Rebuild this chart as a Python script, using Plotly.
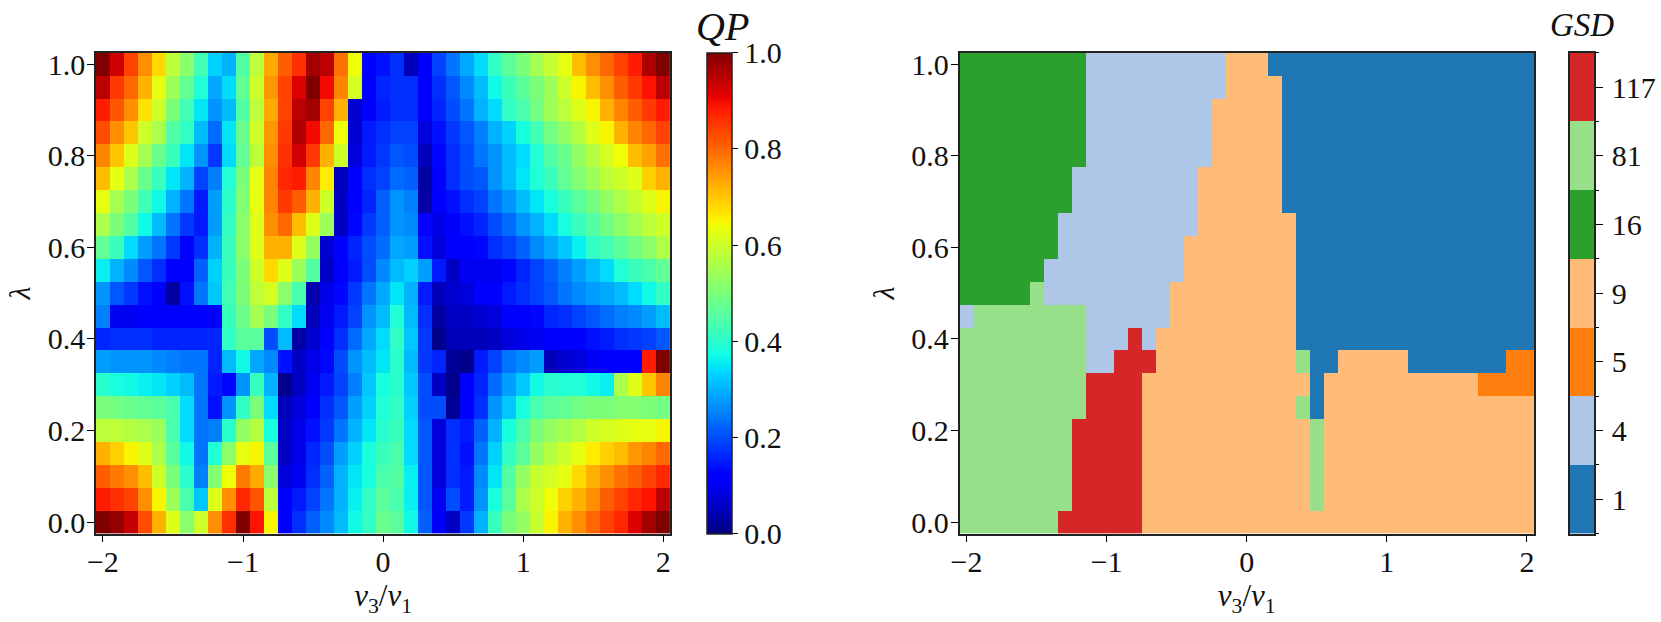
import plotly.graph_objects as go

WIDTH, HEIGHT = 1661, 622
FONT = "Liberation Serif"

v_ratio = [round(-2 + 0.1 * i, 1) for i in range(41)]
lam = [round(1 - 0.05 * i, 2) for i in range(21)]  # top row first

# QP, rows from lambda=1.0 down to 0.0
qp_rows = [
    [1.0, .93, .84, .76, .68, .58, .52, .43, .33, .30, .45, .58, .73, .81, .86, .97, .95, .79, .64, .12, .14, .17, .05, .12, .19, .24, .29, .34, .41, .46, .50, .55, .59, .63, .71, .76, .80, .84, .88, .96, 1.0],
    [.95, .85, .80, .72, .63, .54, .47, .39, .29, .34, .47, .60, .75, .84, .92, 1.0, .90, .77, .61, .12, .16, .17, .17, .12, .17, .21, .26, .31, .37, .42, .46, .50, .54, .60, .65, .71, .76, .81, .85, .89, .95],
    [.88, .82, .76, .67, .60, .50, .43, .35, .27, .31, .45, .58, .73, .84, .95, .97, .84, .72, .07, .12, .15, .17, .17, .12, .16, .20, .24, .30, .34, .41, .44, .49, .54, .58, .62, .65, .72, .77, .81, .85, .88],
    [.83, .76, .70, .60, .56, .45, .41, .31, .23, .35, .48, .60, .75, .85, .96, .90, .80, .64, .07, .15, .17, .19, .19, .08, .14, .18, .21, .25, .30, .33, .38, .43, .49, .53, .57, .62, .65, .72, .77, .80, .84],
    [.77, .70, .62, .55, .48, .42, .35, .27, .18, .34, .47, .58, .76, .86, .93, .85, .72, .60, .08, .15, .18, .21, .20, .05, .13, .17, .20, .24, .27, .31, .34, .39, .45, .48, .53, .57, .61, .64, .71, .74, .79],
    [.71, .63, .56, .48, .42, .35, .30, .19, .25, .39, .50, .63, .77, .87, .88, .77, .66, .05, .11, .17, .19, .23, .22, .03, .12, .17, .20, .21, .27, .31, .35, .39, .42, .47, .51, .54, .58, .60, .62, .69, .72],
    [.63, .55, .50, .43, .37, .30, .24, .15, .28, .40, .51, .63, .77, .85, .81, .72, .60, .06, .11, .16, .22, .27, .25, .03, .12, .14, .17, .19, .24, .27, .31, .35, .38, .42, .46, .49, .53, .56, .59, .62, .65],
    [.56, .50, .45, .37, .31, .24, .18, .15, .28, .41, .52, .62, .76, .80, .71, .62, .54, .06, .13, .18, .22, .27, .26, .12, .09, .11, .14, .16, .20, .23, .27, .30, .34, .38, .42, .45, .49, .52, .55, .58, .60],
    [.47, .42, .34, .28, .24, .18, .12, .17, .30, .42, .52, .62, .72, .72, .62, .53, .07, .11, .16, .20, .23, .29, .28, .14, .08, .11, .12, .13, .17, .19, .22, .26, .29, .32, .36, .41, .43, .46, .49, .52, .56],
    [.36, .30, .26, .21, .17, .12, .11, .22, .33, .42, .50, .60, .68, .62, .54, .45, .06, .11, .15, .20, .26, .31, .33, .28, .15, .06, .10, .10, .10, .13, .16, .19, .22, .25, .28, .31, .34, .39, .42, .44, .47],
    [.27, .21, .18, .14, .11, .03, .14, .24, .32, .43, .50, .58, .61, .52, .44, .04, .09, .13, .18, .24, .29, .35, .30, .15, .05, .07, .08, .11, .12, .15, .17, .19, .21, .24, .26, .28, .29, .31, .34, .37, .41],
    [.25, .10, .10, .11, .12, .12, .12, .12, .12, .42, .48, .55, .50, .41, .34, .05, .10, .15, .19, .27, .31, .39, .31, .17, .03, .06, .06, .07, .08, .11, .12, .13, .16, .17, .19, .21, .23, .25, .26, .28, .31],
    [.16, .17, .17, .17, .16, .16, .16, .16, .16, .41, .46, .46, .20, .31, .03, .07, .12, .17, .23, .29, .34, .41, .32, .18, .01, .05, .05, .05, .06, .08, .09, .10, .12, .12, .12, .14, .15, .17, .18, .19, .21],
    [.28, .27, .27, .27, .26, .25, .24, .24, .16, .31, .37, .29, .26, .14, .06, .09, .13, .20, .27, .31, .35, .40, .31, .18, .16, .02, .01, .15, .19, .24, .26, .28, .05, .07, .08, .10, .11, .12, .12, .88, 1.0],
    [.40, .38, .37, .36, .35, .33, .31, .24, .15, .13, .27, .42, .30, .01, .06, .10, .15, .19, .25, .32, .38, .40, .32, .20, .06, .01, .12, .16, .23, .28, .32, .37, .40, .39, .39, .37, .36, .56, .62, .70, .77],
    [.50, .49, .48, .47, .46, .44, .34, .24, .14, .27, .41, .50, .34, .05, .08, .12, .17, .21, .28, .33, .39, .41, .33, .20, .20, .02, .12, .17, .27, .32, .38, .44, .46, .47, .49, .50, .50, .51, .51, .50, .49],
    [.58, .58, .57, .56, .54, .44, .34, .24, .25, .40, .53, .57, .38, .06, .09, .14, .18, .24, .30, .35, .40, .42, .34, .21, .08, .17, .15, .22, .30, .38, .44, .50, .53, .55, .57, .60, .61, .62, .63, .63, .65],
    [.72, .69, .65, .62, .56, .46, .37, .24, .39, .52, .63, .65, .46, .06, .09, .16, .20, .28, .33, .38, .42, .44, .34, .21, .08, .17, .14, .24, .33, .41, .46, .53, .57, .60, .63, .66, .69, .71, .75, .77, .80],
    [.81, .78, .76, .71, .60, .50, .40, .25, .51, .64, .78, .73, .52, .08, .10, .17, .22, .30, .35, .38, .44, .45, .36, .21, .08, .17, .15, .26, .35, .45, .53, .59, .61, .63, .68, .72, .76, .79, .81, .84, .87],
    [.88, .86, .84, .76, .65, .54, .44, .32, .62, .76, .87, .82, .58, .11, .15, .19, .24, .30, .36, .41, .46, .44, .36, .21, .10, .20, .15, .27, .38, .46, .56, .60, .64, .69, .72, .76, .81, .84, .87, .89, .95],
    [1.0, .98, .94, .83, .72, .62, .52, .60, .76, .86, 1.0, .89, .65, .12, .17, .22, .26, .31, .37, .41, .48, .46, .37, .22, .12, .06, .18, .30, .42, .50, .53, .59, .65, .72, .76, .80, .84, .87, .92, .97, 1.0],
]

# GSD as (value, run length), same row order
gsd_runs = [
    [(16, 9), (4, 10), (9, 3), (1, 19)],
    [(16, 9), (4, 10), (9, 4), (1, 18)],
    [(16, 9), (4, 9), (9, 5), (1, 18)],
    [(16, 9), (4, 9), (9, 5), (1, 18)],
    [(16, 9), (4, 9), (9, 5), (1, 18)],
    [(16, 8), (4, 9), (9, 6), (1, 18)],
    [(16, 8), (4, 9), (9, 6), (1, 18)],
    [(16, 7), (4, 10), (9, 7), (1, 17)],
    [(16, 7), (4, 9), (9, 8), (1, 17)],
    [(16, 6), (4, 10), (9, 8), (1, 17)],
    [(16, 5), (81, 1), (4, 9), (9, 9), (1, 17)],
    [(4, 1), (81, 8), (4, 6), (9, 9), (1, 17)],
    [(81, 9), (4, 3), (117, 1), (4, 1), (9, 10), (1, 17)],
    [(81, 9), (4, 2), (117, 3), (9, 10), (81, 1), (1, 2), (9, 5), (1, 7), (5, 2)],
    [(81, 9), (117, 4), (9, 12), (1, 1), (9, 11), (5, 4)],
    [(81, 9), (117, 4), (9, 11), (81, 1), (1, 1), (9, 15)],
    [(81, 8), (117, 5), (9, 12), (81, 1), (9, 15)],
    [(81, 8), (117, 5), (9, 12), (81, 1), (9, 15)],
    [(81, 8), (117, 5), (9, 12), (81, 1), (9, 15)],
    [(81, 8), (117, 5), (9, 12), (81, 1), (9, 15)],
    [(81, 7), (117, 6), (9, 28)],
]

gsd_levels = [1, 4, 5, 9, 16, 81, 117]
gsd_colors = ["#1f77b4", "#aec7e8", "#ff7f0e", "#ffbb78", "#2ca02c", "#98df8a", "#d62728"]

x_ticks = [-2, -1, 0, 1, 2]
x_labels = ["\u22122", "\u22121", "0", "1", "2"]
y_ticks = [0, 0.2, 0.4, 0.6, 0.8, 1.0]
y_labels = ["0.0", "0.2", "0.4", "0.6", "0.8", "1.0"]

# matplotlib's jet
jet = [[0, "#000080"], [0.11, "#0000ff"], [0.125, "#0000ff"], [0.34, "#00dbff"], [0.35, "#00e6f7"],
       [0.375, "#14ffe2"], [0.64, "#eeff08"], [0.65, "#f7f600"], [0.66, "#ffec00"], [0.89, "#ff1300"],
       [0.91, "#e80000"], [1, "#800000"]]

TOP, BOTTOM = 52.7, 533.5


def dom_x(a, b):
    return [a / WIDTH, b / WIDTH]


def dom_y(top, bottom):
    return [1 - bottom / HEIGHT, 1 - top / HEIGHT]


gsd_grid = []
for runs in gsd_runs:
    row = []
    for value, count in runs:
        row += [gsd_levels.index(value)] * count
    gsd_grid.append(row)

n = len(gsd_levels)
gsd_scale = []
for i, c in enumerate(gsd_colors):
    gsd_scale += [[i / n, c], [(i + 1) / n, c]]

TICK_FONT = dict(family=FONT, size=30, color="#111")

fig = go.Figure()
fig.add_trace(go.Heatmap(
    x=v_ratio, y=lam, z=qp_rows, zmin=0, zmax=1, colorscale=jet, xaxis="x", yaxis="y",
    colorbar=dict(x=706.7 / WIDTH, xanchor="left", xpad=0, ypad=0, y=1 - (TOP + BOTTOM) / 2 / HEIGHT,
                  yanchor="middle", len=(BOTTOM - TOP) / HEIGHT, lenmode="fraction", thickness=25,
                  thicknessmode="pixels", outlinecolor="#222", outlinewidth=1.5, ticks="outside", ticklen=6,
                  tickwidth=1.3, tickcolor="black", tickvals=y_ticks, ticktext=y_labels, tickfont=TICK_FONT),
))
fig.add_trace(go.Heatmap(
    x=v_ratio, y=lam, z=gsd_grid, zmin=-0.5, zmax=n - 0.5, colorscale=gsd_scale, showscale=False,
    xaxis="x2", yaxis="y2",
))
# the discrete key is its own little axis so it can carry short ticks on the boundaries
fig.add_trace(go.Heatmap(
    x=[0], y=list(range(n)), z=[[i] for i in range(n)], zmin=-0.5, zmax=n - 0.5, colorscale=gsd_scale,
    showscale=False, xaxis="x3", yaxis="y3", hoverinfo="skip",
))

frame = dict(showline=True, mirror=True, linecolor="#222", linewidth=1.5, showgrid=False, zeroline=False,
             ticks="outside", ticklen=7, tickwidth=1.3, tickcolor="black", automargin=False, tickfont=TICK_FONT)
x_title = dict(text="<i>v</i><sub>3</sub>/<i>v</i><sub>1</sub>", font=dict(family=FONT, size=31, color="#111"), standoff=1)
y_title = dict(text="<i>\u03bb</i>", font=dict(family=FONT, size=30, color="#111"), standoff=8)

fig.update_layout(
    width=WIDTH, height=HEIGHT, autosize=False,
    margin=dict(l=0, r=0, t=0, b=0),
    paper_bgcolor="white", plot_bgcolor="white", showlegend=False,
    xaxis=dict(domain=dom_x(95.9, 670.3), anchor="y", range=[-2.05, 2.05], tickvals=x_ticks, ticktext=x_labels,
               title=x_title, ticklabelstandoff=-6, **frame),
    yaxis=dict(domain=dom_y(TOP, BOTTOM), anchor="x", range=[-0.025, 1.025], tickvals=y_ticks, ticktext=y_labels,
               title=y_title, ticklabelstandoff=-4, **frame),
    xaxis2=dict(domain=dom_x(959.5, 1534), anchor="y2", range=[-2.05, 2.05], tickvals=x_ticks, ticktext=x_labels,
                title=x_title, ticklabelstandoff=-6, **frame),
    yaxis2=dict(domain=dom_y(TOP, BOTTOM), anchor="x2", range=[-0.025, 1.025], tickvals=y_ticks, ticktext=y_labels,
                title=y_title, ticklabelstandoff=-4, **frame),
    xaxis3=dict(domain=dom_x(1570, 1594), anchor="y3", range=[-0.5, 0.5], showline=True, mirror=True,
                linecolor="#222", linewidth=1.5, showgrid=False, zeroline=False, ticks="", showticklabels=False,
                automargin=False),
    yaxis3=dict(domain=dom_y(TOP, BOTTOM), anchor="x3", side="right", range=[-0.5, n - 0.5],
                tickvals=list(range(n)), ticktext=[str(v) for v in gsd_levels],
                minor=dict(tickvals=[i - 0.5 for i in range(n + 1)], ticks="outside", ticklen=3.5, tickwidth=1.3,
                           tickcolor="black", showgrid=False),
                showline=True, mirror=True, linecolor="#222", linewidth=1.5, showgrid=False, zeroline=False,
                ticks="outside", ticklen=7, tickwidth=1.3, tickcolor="black", automargin=False,
                ticklabelstandoff=3, tickfont=TICK_FONT),
    annotations=[
        dict(text="<i>QP</i>", xref="paper", yref="paper", x=722 / WIDTH, y=1 - 51 / HEIGHT, yanchor="bottom",
             xanchor="center", showarrow=False, font=dict(family=FONT, size=40, color="#111")),
        dict(text="<i>GSD</i>", xref="paper", yref="paper", x=1582 / WIDTH, y=1 - 45 / HEIGHT, yanchor="bottom",
             xanchor="center", showarrow=False, font=dict(family=FONT, size=33, color="#111")),
    ],
)

fig.write_html("out.html", config={"displayModeBar": False},
               post_script="document.body.style.margin='0';document.body.style.overflow='hidden';")
